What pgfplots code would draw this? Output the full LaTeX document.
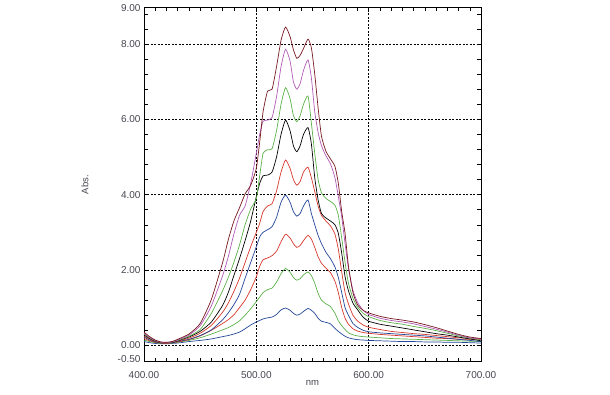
\documentclass[border=0pt]{standalone}
\usepackage{fontspec}
\setmainfont{Liberation Sans}
\usepackage{pgfplots}
\pgfplotsset{compat=1.18}
\definecolor{cblue}{RGB}{35,70,150}
\definecolor{cgreen}{RGB}{92,176,72}
\definecolor{cred}{RGB}{215,55,43}
\definecolor{cmag}{RGB}{176,90,181}
\definecolor{cmar}{RGB}{118,24,34}
\definecolor{tgray}{RGB}{70,70,80}
\begin{document}
\begin{tikzpicture}
\begin{axis}[
  name=ax, at={(0pt,0pt)}, anchor=south west, scale only axis,
  width=337pt, height=354.4pt,
  xmin=400, xmax=700, ymin=-0.435, ymax=8.975,
  xtick={500,600}, xticklabels={500.00,600.00},
  extra x ticks={400,700}, extra x tick labels={400.00,700.00},
  extra x tick style={grid=none},
  minor xtick={410,420,...,690},
  ytick={0,2,4,6,8}, yticklabels={0.00,2.00,4.00,6.00,8.00},
  extra y ticks={-0.37,8.95}, extra y tick labels={-0.50,9.00},
  extra y tick style={grid=none, major tick length=0pt},
  minor ytick={0.4,0.8,1.2,1.6,2.4,2.8,3.2,3.6,4.4,4.8,5.2,5.6,6.4,6.8,7.2,7.6,8.4,8.8},
  major tick length=4pt, minor tick length=4pt,
  tick style={black, line width=0.5pt},
  grid=major,
  major grid style={black, line width=0.6pt, dash pattern=on 2pt off 1.5pt},
  axis line style={black, line width=0.7pt},
  tick label style={font=\fontsize{10}{12}\selectfont, text=tgray},
  xticklabel style={yshift=-6pt},
  xlabel={nm}, ylabel={Abs.},
  label style={font=\fontsize{9.5}{11}\selectfont, text=tgray},
  xlabel style={at={(axis description cs:0.5,0)}, anchor=center, yshift=-21pt},
  ylabel style={at={(axis description cs:0,0.5)}, anchor=center, rotate=0, yshift=59pt},
  every axis plot/.append style={line width=0.7pt, smooth, tension=0.35, mark=none},
  clip=true,
]
% blue 1
\addplot[cblue] coordinates {(400,0.10)(405,0.07)(410,0.05)(415,0.04)(420,0.04)(425,0.05)(430,0.06)(440,0.10)(450,0.13)(460,0.17)(470,0.23)(475,0.26)(480,0.30)(485,0.35)(490,0.44)(495,0.54)(500,0.62)(503,0.66)(506,0.70)(510,0.73)(514,0.75)(518,0.82)(522,0.94)(526,0.99)(530,0.93)(533,0.85)(536,0.80)(539,0.83)(542,0.90)(546,0.98)(549,0.93)(552,0.85)(555,0.72)(558,0.64)(562,0.61)(566,0.57)(570,0.45)(573,0.37)(576,0.30)(579,0.24)(582,0.20)(586,0.17)(590,0.15)(595,0.14)(600,0.13)(610,0.12)(620,0.11)(630,0.10)(640,0.10)(650,0.09)(660,0.09)(670,0.08)(680,0.08)(690,0.07)(700,0.06)};
% green 2
\addplot[cgreen] coordinates {(400,0.14)(405,0.10)(410,0.07)(415,0.05)(420,0.05)(425,0.06)(430,0.08)(440,0.13)(450,0.20)(460,0.30)(470,0.41)(475,0.47)(480,0.55)(485,0.65)(490,0.80)(495,0.97)(500,1.16)(503,1.28)(506,1.40)(510,1.48)(514,1.52)(518,1.68)(522,1.90)(526,2.04)(530,1.94)(533,1.80)(536,1.73)(539,1.77)(542,1.87)(546,1.95)(549,1.85)(552,1.65)(555,1.38)(558,1.20)(562,1.10)(566,1.03)(570,0.85)(573,0.65)(576,0.52)(579,0.42)(582,0.33)(586,0.28)(590,0.25)(595,0.23)(600,0.22)(610,0.20)(620,0.18)(630,0.17)(640,0.16)(650,0.15)(660,0.14)(670,0.13)(680,0.12)(690,0.11)(700,0.10)};
% red 3
\addplot[cred] coordinates {(400,0.18)(405,0.12)(410,0.08)(415,0.06)(420,0.05)(425,0.07)(430,0.09)(440,0.15)(450,0.25)(460,0.40)(470,0.58)(475,0.68)(480,0.81)(485,1.00)(490,1.20)(495,1.48)(500,1.82)(503,2.10)(506,2.27)(510,2.32)(514,2.38)(518,2.50)(522,2.75)(526,2.95)(530,2.85)(533,2.70)(536,2.60)(539,2.65)(542,2.78)(546,2.92)(549,2.82)(552,2.60)(555,2.35)(558,2.18)(562,2.05)(566,1.93)(570,1.70)(573,1.40)(576,1.00)(579,0.72)(582,0.56)(586,0.44)(590,0.38)(595,0.34)(600,0.32)(610,0.29)(620,0.27)(630,0.25)(640,0.23)(650,0.21)(660,0.19)(670,0.18)(680,0.16)(690,0.16)(700,0.15)};
% blue 4
\addplot[cblue] coordinates {(400,0.22)(405,0.14)(410,0.09)(415,0.06)(420,0.06)(425,0.07)(430,0.10)(440,0.16)(450,0.26)(460,0.41)(470,0.68)(475,0.86)(480,1.08)(485,1.35)(490,1.78)(495,2.20)(500,2.62)(503,2.88)(506,3.00)(510,3.07)(514,3.15)(518,3.40)(522,3.80)(526,3.99)(530,3.80)(533,3.55)(536,3.43)(539,3.50)(542,3.70)(546,3.86)(549,3.50)(552,3.20)(555,2.92)(558,2.70)(562,2.47)(566,2.30)(570,2.08)(573,1.80)(576,1.40)(579,1.00)(582,0.80)(586,0.58)(590,0.48)(595,0.40)(600,0.36)(610,0.33)(620,0.31)(630,0.29)(640,0.27)(650,0.25)(660,0.22)(670,0.19)(680,0.16)(690,0.13)(700,0.10)};
% red 5
\addplot[cred] coordinates {(400,0.25)(405,0.16)(410,0.10)(415,0.07)(420,0.06)(425,0.08)(430,0.11)(440,0.19)(450,0.32)(460,0.53)(470,0.88)(475,1.12)(480,1.43)(485,1.78)(490,2.20)(495,2.62)(500,3.00)(503,3.24)(506,3.55)(510,3.70)(514,3.76)(518,4.10)(522,4.60)(526,4.92)(530,4.70)(533,4.40)(536,4.25)(539,4.35)(542,4.60)(546,4.73)(549,4.45)(552,4.08)(555,3.70)(558,3.45)(562,3.30)(566,3.17)(570,2.95)(573,2.55)(576,1.95)(579,1.40)(582,1.10)(586,0.80)(590,0.65)(595,0.54)(600,0.48)(610,0.42)(620,0.37)(630,0.34)(640,0.31)(650,0.29)(660,0.26)(670,0.23)(680,0.20)(690,0.19)(700,0.17)};
% black 6
\addplot[black] coordinates {(400,0.28)(405,0.18)(410,0.11)(415,0.07)(420,0.07)(425,0.08)(430,0.12)(440,0.22)(450,0.37)(460,0.62)(470,1.06)(475,1.40)(480,1.85)(485,2.30)(490,2.78)(495,3.30)(500,3.95)(503,4.30)(506,4.50)(510,4.52)(514,4.60)(518,5.00)(522,5.60)(526,5.98)(530,5.70)(533,5.30)(536,5.14)(539,5.30)(542,5.60)(546,5.78)(549,5.35)(552,4.45)(555,3.86)(558,3.50)(562,3.38)(566,3.30)(570,3.20)(573,2.97)(576,2.45)(579,1.82)(582,1.45)(586,1.12)(590,0.95)(595,0.75)(600,0.64)(610,0.56)(620,0.51)(630,0.46)(640,0.41)(650,0.36)(660,0.31)(670,0.27)(680,0.22)(690,0.17)(700,0.12)};
% green 7
\addplot[cgreen] coordinates {(400,0.30)(405,0.20)(410,0.12)(415,0.08)(420,0.07)(425,0.09)(430,0.13)(440,0.24)(450,0.42)(460,0.85)(470,1.45)(475,1.80)(480,2.20)(485,2.66)(490,3.20)(495,3.62)(500,3.90)(503,4.50)(506,5.10)(510,5.19)(514,5.22)(518,5.70)(522,6.40)(526,6.84)(530,6.55)(533,6.10)(536,5.94)(539,6.10)(542,6.40)(546,6.62)(549,5.90)(552,5.10)(555,4.40)(558,4.05)(562,3.90)(566,3.82)(570,3.72)(573,3.45)(576,2.85)(579,2.20)(582,1.65)(586,1.25)(590,1.02)(595,0.85)(600,0.76)(610,0.66)(620,0.60)(630,0.56)(640,0.50)(650,0.45)(660,0.39)(670,0.32)(680,0.25)(690,0.19)(700,0.14)};
% magenta 8
\addplot[cmag] coordinates {(400,0.32)(405,0.21)(410,0.13)(415,0.08)(420,0.07)(425,0.09)(430,0.14)(440,0.27)(450,0.52)(460,1.05)(470,1.85)(475,2.35)(480,2.95)(485,3.45)(490,3.70)(495,4.30)(500,5.10)(503,5.60)(506,5.95)(510,5.98)(514,6.05)(518,6.60)(522,7.40)(526,7.86)(530,7.55)(533,7.00)(536,6.80)(539,6.95)(542,7.30)(546,7.58)(549,7.10)(552,6.20)(555,5.65)(558,5.30)(562,5.03)(566,4.82)(570,4.45)(573,3.95)(576,3.41)(579,2.70)(582,2.05)(586,1.46)(590,1.15)(595,0.93)(600,0.82)(610,0.72)(620,0.66)(630,0.62)(640,0.57)(650,0.50)(660,0.43)(670,0.35)(680,0.27)(690,0.20)(700,0.16)};
% maroon 9
\addplot[cmar] coordinates {(400,0.35)(405,0.23)(410,0.14)(415,0.09)(420,0.08)(425,0.10)(430,0.16)(440,0.30)(450,0.58)(460,1.22)(470,2.20)(475,2.80)(480,3.30)(485,3.65)(490,4.02)(495,4.25)(500,4.70)(503,5.40)(506,6.20)(510,6.75)(514,6.80)(518,7.40)(522,8.10)(526,8.45)(530,8.20)(533,7.85)(536,7.62)(539,7.70)(542,7.88)(546,8.13)(549,7.90)(552,7.20)(555,6.30)(558,5.55)(562,5.15)(566,4.95)(570,4.75)(573,4.30)(576,3.55)(579,2.97)(582,2.10)(586,1.40)(590,1.08)(595,0.93)(600,0.86)(610,0.77)(620,0.71)(630,0.67)(640,0.62)(650,0.55)(660,0.47)(670,0.38)(680,0.29)(690,0.22)(700,0.18)};
\end{axis}
\pgfresetboundingbox
\path (ax.south west) ++(-144pt,-33.3pt) rectangle ++(610pt,395pt);
\end{tikzpicture}
\end{document}
